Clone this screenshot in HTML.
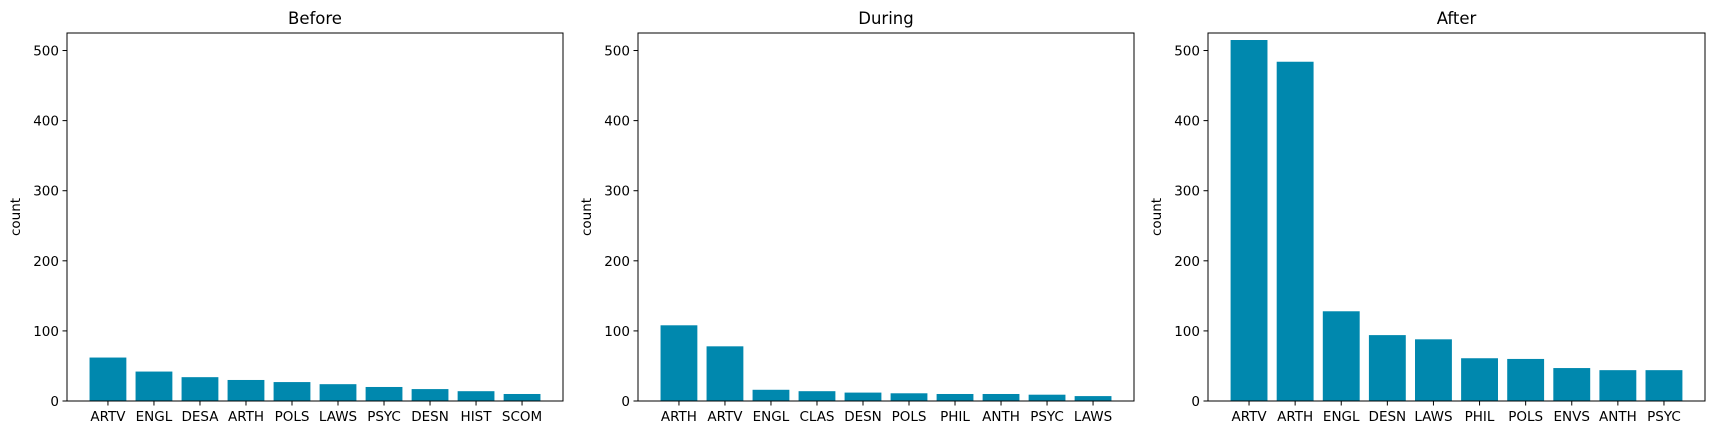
<!DOCTYPE html>
<html><head><meta charset="utf-8"><style>
body{margin:0;background:#fff;}
svg text{font-family:"DejaVu Sans","Liberation Sans",sans-serif;fill:#000;}
</style></head><body>
<svg id="fig" width="1713" height="435" xmlns="http://www.w3.org/2000/svg"></svg>
<script>
const titles = ["Before","During","After"];
const catsBefore = ["ARTV","ENGL","DESA","ARTH","POLS","LAWS","PSYC","DESN","HIST","SCOM"];
const valsBefore = [62,42,34,30,27,24,20,17,14,10];
const catsDuring = ["ARTH","ARTV","ENGL","CLAS","DESN","POLS","PHIL","ANTH","PSYC","LAWS"];
const valsDuring = [108,78,16,14,12,11,10,10,9,7];
const catsAfter = ["ARTV","ARTH","ENGL","DESN","LAWS","PHIL","POLS","ENVS","ANTH","PSYC"];
const valsAfter = [515,484,128,94,88,61,60,47,44,44];
const yTicks = [0,100,200,300,400,500];
const yMax = 525;

const NS="http://www.w3.org/2000/svg";
const svg=document.getElementById('fig');
function mk(tag,attrs,parent){const e=document.createElementNS(NS,tag);for(const k in attrs)e.setAttribute(k,attrs[k]);(parent||svg).appendChild(e);return e;}
const panels=[{l:67,r:563,cats:catsBefore,vals:valsBefore},{l:638,r:1134,cats:catsDuring,vals:valsDuring},{l:1208,r:1705,cats:catsAfter,vals:valsAfter}];
const axTop=33,axBottom=401;
panels.forEach((p,pi)=>{
  const g=mk('g',{});
  
  
  const x0=-0.89,x1=9.89;
  const xs=v=>p.l+(v-x0)/(x1-x0)*(p.r-p.l);
  const ys=v=>axBottom-v/yMax*(axBottom-axTop);
  p.vals.forEach((v,i)=>{
    const b=mk('rect',{x:xs(i-0.4),y:ys(v),width:xs(i+0.4)-xs(i-0.4),height:axBottom-ys(v),fill:'#0088ae'},g);
    
    
    mk('line',{x1:xs(i),x2:xs(i),y1:axBottom,y2:axBottom+4.5,stroke:'#000','stroke-width':1},g);
    const t=mk('text',{x:xs(i),y:axBottom+20,'font-size':13.5,'text-anchor':'middle'},g);
    t.textContent=p.cats[i];
    
    
  });
  yTicks.forEach(v=>{
    mk('line',{x1:p.l-4.5,x2:p.l,y1:ys(v),y2:ys(v),stroke:'#000','stroke-width':1},g);
    const t=mk('text',{x:p.l-8,y:ys(v)+5,'font-size':13.5,'text-anchor':'end'},g);
    t.textContent=v;
    
    
  });
  const fr=mk('rect',{x:p.l,y:axTop,width:p.r-p.l,height:axBottom-axTop,fill:'none',stroke:'#000','stroke-width':1},g);
  
  
  const tt=mk('text',{x:(p.l+p.r)/2,y:axTop-9,'font-size':16.5,'text-anchor':'middle'},g);
  tt.textContent=titles[pi];
  
  
  const yl=mk('text',{x:0,y:0,'font-size':13.5,'text-anchor':'middle',transform:`translate(${p.l-47},${(axTop+axBottom)/2}) rotate(-90)`},g);
  yl.textContent='count';
  
  
});
</script>
</body></html>
